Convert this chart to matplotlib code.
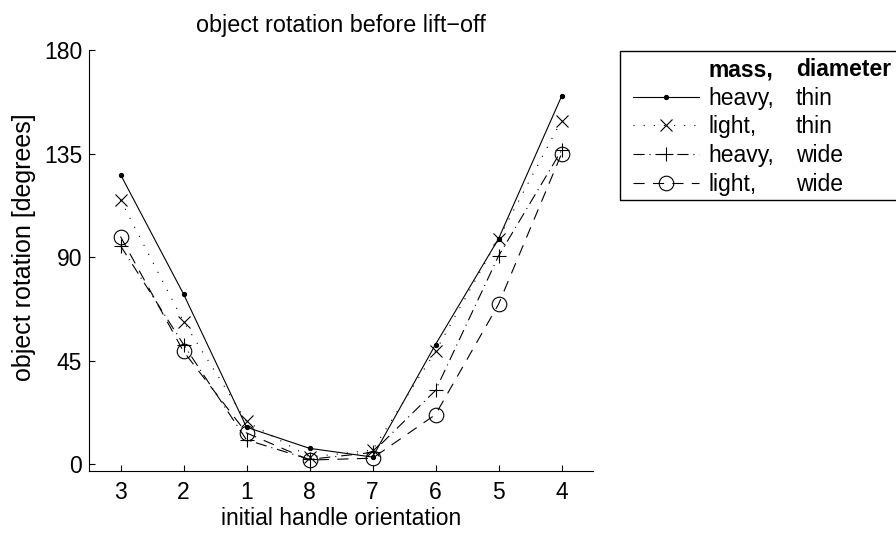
import matplotlib
matplotlib.use('Agg')
import matplotlib.pyplot as plt
from matplotlib.patches import Rectangle
from matplotlib.lines import Line2D

plt.rcParams['font.family'] = ['Liberation Sans', 'DejaVu Sans']
plt.rcParams['font.size'] = 16.5
plt.rcParams['lines.scale_dashes'] = False

# handle orientations, in the order shown on the x axis
orient = ['3', '2', '1', '8', '7', '6', '5', '4']
heavy_thin = [126, 74, 16, 6.8, 3, 52, 98, 160]
light_thin = [115, 62, 18.5, 3, 6, 49, 98, 149.5]
heavy_wide = [95, 52, 10.5, 2, 5, 32, 90.5, 136.5]
light_wide = [99, 49, 13.5, 1.7, 2.5, 21.5, 69.5, 135]

mass = ['heavy,', 'light,', 'heavy,', 'light,']
diam = ['thin', 'thin', 'wide', 'wide']

fig = plt.figure(figsize=(8.96, 5.34), dpi=100)
ax = fig.add_axes([89/896, 1 - 471.3/534, (593-89)/896, (471.3-50.5)/534])

x = range(1, len(orient) + 1)
lw = 0.8
l1, = ax.plot(x, heavy_thin, color='k', lw=lw, ls='-', marker='o', ms=2.8, mfc='k', mec='k')
l2, = ax.plot(x, light_thin, color='k', lw=lw, ls=(0, (0.8, 6.5)), marker='x', ms=8, mew=0.8)
l3, = ax.plot(x, heavy_wide, color='k', lw=lw, ls=(0, (8, 3.5, 0.8, 3.5)), marker='+', ms=10, mew=0.8)
l4, = ax.plot(x, light_wide, color='k', lw=lw, ls=(0, (8, 6)), marker='o', ms=10.5, mfc='none', mew=0.8)

ax.set_xlim(0.5, 8.5)
ax.set_ylim(-3.2, 180)
ax.set_xticks(list(x))
ax.set_xticklabels(orient)
ax.set_yticks([0, 45, 90, 135, 180])
ax.tick_params(direction='in', length=4, width=0.8, pad=7)
ax.tick_params(axis='y', pad=5)
for s in ['top', 'right']:
    ax.spines[s].set_visible(False)
for s in ['left', 'bottom']:
    ax.spines[s].set_linewidth(0.8)

ax.set_title('object rotation before lift\u2212off', pad=13, fontsize=16.8)
ax.set_xlabel('initial handle orientation', labelpad=2)
ax.set_ylabel('object rotation [degrees]', fontsize=18)
ax.yaxis.set_label_coords(-0.106, 0.532)

# legend: header row + four entries, second column added as text
blank = Line2D([], [], color='none')
leg = fig.legend([blank, l1, l2, l3, l4], ['mass,'] + mass,
                 loc='upper left', bbox_to_anchor=(633/896, 1 - 58/534),
                 frameon=False, borderpad=0, borderaxespad=0,
                 handlelength=2.9, handletextpad=0.4, labelspacing=0.25,
                 numpoints=1, fontsize=16.5)
leg.get_texts()[0].set_fontweight('bold')
fig.patches.append(Rectangle((620/896, 1 - 200/534), 0.5, 149.3/534,
                             transform=fig.transFigure, fill=False,
                             ec='k', lw=1))

fig.canvas.draw()
inv = fig.transFigure.inverted()
col2 = ['diameter'] + diam
for t, s in zip(leg.get_texts(), col2):
    bb = t.get_window_extent()
    y0 = inv.transform((0, (bb.y0 + bb.y1) / 2))[1]
    fig.text(796/896, y0, s, va='center', ha='left', fontsize=16.5,
             fontweight='bold' if s == 'diameter' else 'normal')

fig.savefig('out.png', dpi=100)
